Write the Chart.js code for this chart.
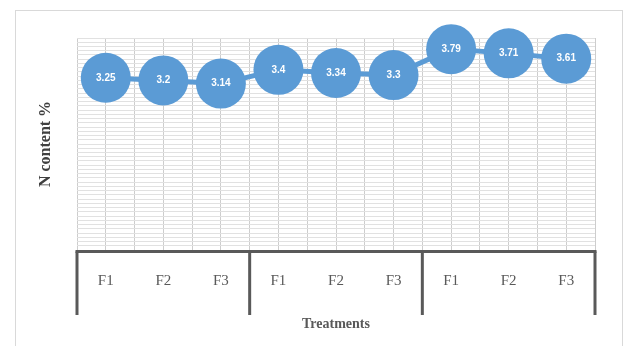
<!DOCTYPE html>
<html>
<head>
<meta charset="utf-8">
<script src="https://cdn.jsdelivr.net/npm/chart.js@4.4.1/dist/chart.umd.min.js"></script>
<style>
  html, body { margin: 0; padding: 0; background: #ffffff; }
  #wrap { width: 626px; height: 346px; }
</style>
</head>
<body>
<div id="wrap"><canvas id="chart" width="626" height="346"></canvas></div>
<script>
// Treatment levels, repeated in three unlabelled groups
const categories = ['F1', 'F2', 'F3', 'F1', 'F2', 'F3', 'F1', 'F2', 'F3'];
const groupSizes = [3, 3, 3];
// Nitrogen content (%) per treatment
const nContent = [3.25, 3.2, 3.14, 3.4, 3.34, 3.3, 3.79, 3.71, 3.61];

const BLUE = '#5b9bd5';
const AXIS_DARK = '#595959';

// Light outer frame around the whole chart
const frame = {
  id: 'frame',
  beforeDraw(chart) {
    const ctx = chart.ctx;
    ctx.save();
    ctx.strokeStyle = '#d9d9d9';
    ctx.lineWidth = 1;
    ctx.strokeRect(15.5, 10.5, 607, 345);
    ctx.restore();
  }
};

// Dark category axis line with group separators hanging below it
const groupAxis = {
  id: 'groupAxis',
  afterDatasetsDraw(chart) {
    const x = chart.scales.x;
    const area = chart.chartArea;
    const ctx = chart.ctx;
    ctx.save();
    ctx.strokeStyle = AXIS_DARK;
    ctx.lineWidth = 3;
    ctx.lineCap = 'butt';
    const y0 = area.bottom + 1.5;
    ctx.beginPath();
    ctx.moveTo(x.getPixelForValue(-0.5) - 1.5, y0);
    ctx.lineTo(x.getPixelForValue(categories.length - 0.5) + 1.5, y0);
    ctx.stroke();
    let edge = -0.5;
    const edges = [edge];
    groupSizes.forEach(n => { edge += n; edges.push(edge); });
    edges.forEach(v => {
      const px = x.getPixelForValue(v);
      ctx.beginPath();
      ctx.moveTo(px, y0);
      ctx.lineTo(px, area.bottom + 65);
      ctx.stroke();
    });
    ctx.restore();
  }
};

// Value written inside each marker
const valueLabels = {
  id: 'valueLabels',
  afterDatasetsDraw(chart) {
    const ctx = chart.ctx;
    const meta = chart.getDatasetMeta(0);
    ctx.save();
    ctx.fillStyle = '#ffffff';
    ctx.font = 'bold 10px "Liberation Sans Narrow", "Liberation Sans", Arial, sans-serif';
    ctx.textAlign = 'center';
    ctx.textBaseline = 'middle';
    meta.data.forEach((pt, i) => {
      ctx.fillText(String(nContent[i]), pt.x, pt.y);
    });
    ctx.restore();
  }
};

new Chart(document.getElementById('chart'), {
  type: 'line',
  data: {
    datasets: [{
      label: 'N content %',
      data: nContent.map((v, i) => ({ x: i, y: v })),
      borderColor: BLUE,
      backgroundColor: BLUE,
      borderWidth: 5,
      pointRadius: 25,
      pointHoverRadius: 25,
      pointBackgroundColor: BLUE,
      pointBorderColor: BLUE,
      pointBorderWidth: 0,
      tension: 0,
      clip: false
    }]
  },
  options: {
    responsive: false,
    animation: false,
    devicePixelRatio: 1,
    layout: { padding: { left: 0, top: 38, right: 31, bottom: 0 } },
    plugins: { legend: { display: false }, tooltip: { enabled: false } },
    scales: {
      x: {
        type: 'linear',
        min: -0.5,
        max: categories.length - 0.5,
        afterFit(scale) { scale.height = 96; },
        ticks: {
          stepSize: 0.5,
          autoSkip: false,
          maxRotation: 0,
          padding: 22,
          color: AXIS_DARK,
          font: { family: '"Liberation Serif", "Times New Roman", serif', size: 15 },
          callback(v) { return Number.isInteger(v) ? categories[v] : ''; }
        },
        grid: { color: '#cdcdcd', lineWidth: 1, drawTicks: false },
        border: { display: false },
        title: {
          display: true,
          text: 'Treatments',
          color: AXIS_DARK,
          font: { family: '"Liberation Serif", "Times New Roman", serif', size: 14, weight: 'bold' },
          padding: { top: 0, bottom: 13 }
        }
      },
      y: {
        min: 0,
        max: 4,
        afterFit(scale) { scale.width = 77; },
        ticks: { display: false, stepSize: 0.08 },
        grid: { color: '#e1e1e1', lineWidth: 1, drawTicks: false },
        border: { display: false },
        title: {
          display: true,
          text: 'N content %',
          color: '#404040',
          font: { family: '"Liberation Serif", "Times New Roman", serif', size: 16, weight: 'bold' },
          padding: { top: 36, bottom: 0 }
        }
      }
    }
  },
  plugins: [frame, groupAxis, valueLabels]
});
</script>
</body>
</html>
